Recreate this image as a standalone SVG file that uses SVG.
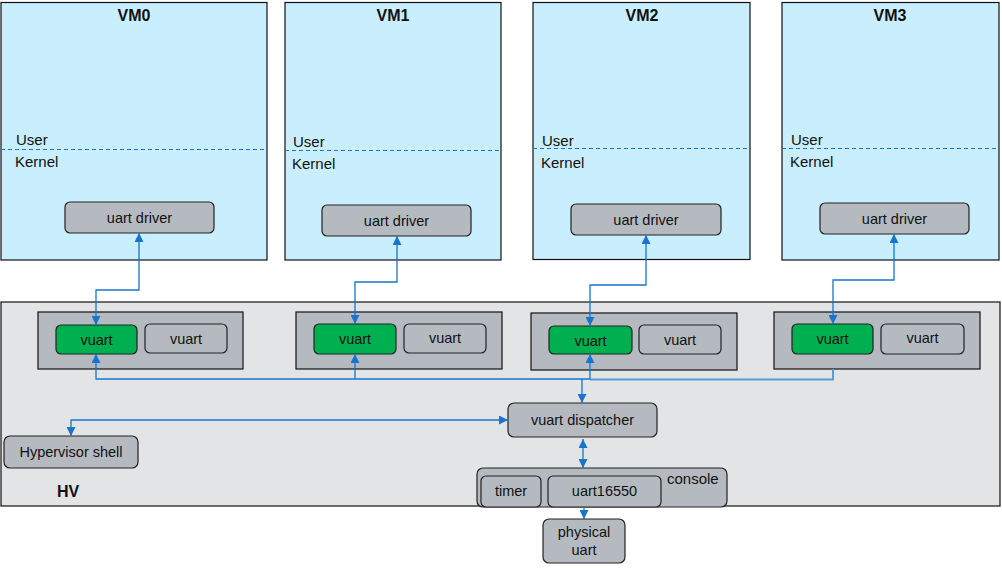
<svg xmlns="http://www.w3.org/2000/svg" width="1002" height="568" viewBox="0 0 1002 568">
<defs>
<marker id="ah" viewBox="0 0 10 10" refX="10" refY="5" markerWidth="9" markerHeight="9" markerUnits="userSpaceOnUse" orient="auto-start-reverse"><path d="M0,0 L10,5 L0,10 z" fill="#1874CD"/></marker>
</defs>
<style>
text{font-family:"Liberation Sans",Arial,sans-serif;fill:#111;}
.vm{fill:#C9EEFD;stroke:#111;stroke-width:1.2;}
.title{font-size:16px;font-weight:bold;text-anchor:middle;}
.lbl{font-size:15px;}
.dash{stroke:#1874CD;stroke-width:1;stroke-dasharray:4,3;fill:none;}
.node{fill:#B4BAC0;stroke:#222;stroke-width:1.2;}
.green{fill:#00AF50;stroke:#222;stroke-width:1.2;}
.grp{fill:#B4BAC0;stroke:#111;stroke-width:1.2;}
.t{font-size:14.5px;text-anchor:middle;}
.c{fill:none;stroke:#1874CD;stroke-width:1.3;}
.cl{fill:none;stroke:#5B9BD5;stroke-width:2;}
</style>

<g id="hv">
<rect x="1" y="302" width="999" height="204" fill="#E3E4E6" stroke="#111" stroke-width="1.2"/>
<text x="68" y="497" class="title">HV</text>
</g>

<g id="vm0">
<rect class="vm" x="1" y="2.5" width="266" height="257.5"/>
<text class="title" x="134" y="21">VM0</text>
<line class="dash" x1="1" y1="149.5" x2="267" y2="149.5"/>
<text class="lbl" x="16" y="145">User</text>
<text class="lbl" x="15" y="167">Kernel</text>
</g>
<g id="vm0-driver"><rect class="node" x="65" y="202" width="149" height="31" rx="5"/><text class="t" x="139.5" y="223">uart driver</text></g>

<g id="vm1">
<rect class="vm" x="285" y="2.5" width="216" height="257.5"/>
<text class="title" x="393" y="21">VM1</text>
<line class="dash" x1="285" y1="150.5" x2="501" y2="150.5"/>
<text class="lbl" x="293" y="147">User</text>
<text class="lbl" x="292" y="169">Kernel</text>
</g>
<g id="vm1-driver"><rect class="node" x="322" y="205" width="149" height="31" rx="5"/><text class="t" x="396.5" y="226">uart driver</text></g>

<g id="vm2">
<rect class="vm" x="533" y="2.5" width="217" height="257"/>
<text class="title" x="642" y="21">VM2</text>
<line class="dash" x1="533" y1="148.5" x2="750" y2="148.5"/>
<text class="lbl" x="542" y="146">User</text>
<text class="lbl" x="541" y="168">Kernel</text>
</g>
<g id="vm2-driver"><rect class="node" x="571" y="204" width="150" height="31" rx="5"/><text class="t" x="646" y="225">uart driver</text></g>

<g id="vm3">
<rect class="vm" x="782" y="2.5" width="217" height="257.5"/>
<text class="title" x="890" y="21">VM3</text>
<line class="dash" x1="782" y1="148.5" x2="999" y2="148.5"/>
<text class="lbl" x="791" y="145">User</text>
<text class="lbl" x="790" y="167">Kernel</text>
</g>
<g id="vm3-driver"><rect class="node" x="820" y="203" width="149" height="31" rx="5"/><text class="t" x="894.5" y="224">uart driver</text></g>

<g id="vm0-vuarts">
<rect class="grp" x="38" y="312" width="205" height="57"/>
<rect class="green" x="56" y="325" width="81" height="29" rx="5"/><text class="t" x="96.5" y="344.5">vuart</text>
<rect class="node" x="145" y="324" width="82" height="29" rx="5"/><text class="t" x="186" y="343.5">vuart</text>
</g>
<g id="vm1-vuarts">
<rect class="grp" x="296" y="312" width="206" height="57"/>
<rect class="green" x="314" y="324" width="82" height="30" rx="5"/><text class="t" x="355" y="344">vuart</text>
<rect class="node" x="404" y="324" width="82" height="29" rx="5"/><text class="t" x="445" y="343">vuart</text>
</g>
<g id="vm2-vuarts">
<rect class="grp" x="531" y="313" width="206" height="57"/>
<rect class="green" x="549" y="326" width="83" height="28" rx="5"/><text class="t" x="590.5" y="345.5">vuart</text>
<rect class="node" x="639" y="325" width="82" height="29" rx="5"/><text class="t" x="680" y="344.5">vuart</text>
</g>
<g id="vm3-vuarts">
<rect class="grp" x="774" y="312" width="206" height="57"/>
<rect class="green" x="792" y="324" width="81" height="30" rx="5"/><text class="t" x="832.5" y="344">vuart</text>
<rect class="node" x="881" y="324" width="83" height="30" rx="5"/><text class="t" x="922.5" y="343">vuart</text>
</g>

<g id="shell"><rect class="node" x="4" y="436" width="134" height="32" rx="6"/><text class="t" x="71" y="457">Hypervisor shell</text></g>
<g id="dispatcher"><rect class="node" x="508" y="403" width="149" height="34" rx="6"/><text class="t" x="582.5" y="425">vuart dispatcher</text></g>
<g id="console">
<rect class="node" x="477" y="468" width="250" height="39" rx="6"/>
<text class="lbl" x="667" y="484">console</text>
</g>
<g id="timer"><rect class="node" x="481" y="476" width="60" height="31" rx="5"/><text class="t" x="511" y="496">timer</text></g>
<g id="uart16550"><rect class="node" x="548" y="476" width="113" height="31" rx="5"/><text class="t" x="604.5" y="496">uart16550</text></g>
<g id="physical"><rect class="node" x="543" y="519" width="82" height="44" rx="6"/><text class="t" x="584" y="537">physical</text><text class="t" x="584" y="555">uart</text></g>

<g id="connectors">
<path class="c" d="M139,233 V290 H96 V325" marker-start="url(#ah)" marker-end="url(#ah)"/>
<path class="c" d="M397,236 V282 H355 V324" marker-start="url(#ah)" marker-end="url(#ah)"/>
<path class="c" d="M646,235 V285 H590 V326" marker-start="url(#ah)" marker-end="url(#ah)"/>
<path class="c" d="M894,234 V280 H833 V324" marker-start="url(#ah)" marker-end="url(#ah)"/>
<path class="cl" d="M833,369 V379.5 H590"/>
<path class="c" d="M96,354 V379 H590 V354" marker-start="url(#ah)" marker-end="url(#ah)"/>
<path class="c" d="M355,379 V354" marker-end="url(#ah)"/>
<path class="c" d="M582,379 V403" marker-end="url(#ah)"/>
<path class="c" d="M508,420 H71 V436" marker-start="url(#ah)" marker-end="url(#ah)"/>
<path class="c" d="M583,439 V468" marker-start="url(#ah)" marker-end="url(#ah)"/>
<path class="c" d="M584,507 V519" marker-end="url(#ah)"/>
</g>
</svg>
